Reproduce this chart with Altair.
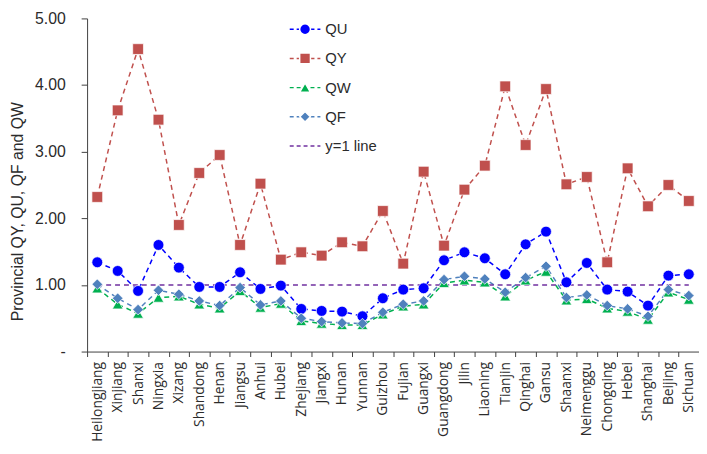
import altair as alt
import pandas as pd

provinces = ["Heilongjiang", "Xinjiang", "Shanxi", "Ningxia", "Xizang", "Shandong", "Henan",
             "Jiangsu", "Anhui", "Hubei", "Zhejiang", "Jiangxi", "Hunan", "Yunnan", "Guizhou",
             "Fujian", "Guangxi", "Guangdong", "Jilin", "Liaoning", "Tianjin", "Qinghai", "Gansu",
             "Shaanxi", "Neimenggu", "Chongqing", "Hebei", "Shanghai", "Beijing", "Sichuan"]

qu = [1.34, 1.21, 0.91, 1.60, 1.26, 0.97, 0.97, 1.19, 0.94, 0.99, 0.64, 0.61, 0.60, 0.53, 0.80,
      0.93, 0.95, 1.37, 1.49, 1.40, 1.16, 1.61, 1.80, 1.04, 1.33, 0.93, 0.90, 0.69, 1.14, 1.16]
qy = [2.32, 3.62, 4.54, 3.48, 1.90, 2.68, 2.95, 1.60, 2.52, 1.38, 1.49, 1.44, 1.64, 1.58, 2.11,
      1.32, 2.70, 1.59, 2.43, 2.79, 3.98, 3.10, 3.94, 2.51, 2.62, 1.34, 2.75, 2.18, 2.50, 2.26]
qw = [0.95, 0.71, 0.57, 0.81, 0.83, 0.71, 0.65, 0.91, 0.66, 0.72, 0.46, 0.42, 0.40, 0.40, 0.56,
      0.68, 0.71, 1.03, 1.07, 1.04, 0.83, 1.07, 1.20, 0.77, 0.79, 0.65, 0.60, 0.48, 0.89, 0.78]
qf = [1.01, 0.80, 0.63, 0.92, 0.86, 0.76, 0.69, 0.96, 0.70, 0.76, 0.50, 0.45, 0.43, 0.42, 0.59,
      0.71, 0.76, 1.08, 1.13, 1.09, 0.89, 1.11, 1.28, 0.81, 0.85, 0.69, 0.64, 0.53, 0.93, 0.84]
ref_line = [1.0] * len(provinces)

series_names = ["QU", "QY", "QW", "QF", "y=1 line"]
series_colors = ["#0000FF", "#C0504D", "#00B050", "#4F81BD", "#7030A0"]
marker_shapes = ["circle", "square", "triangle-up", "diamond"]
marker_sizes = [120, 115, 120, 160]

rows = []
for name, vals in zip(series_names, [qu, qy, qw, qf, ref_line]):
    for p, v in zip(provinces, vals):
        rows.append({"province": p, "series": name, "value": v})
df = pd.DataFrame(rows)

font = "Liberation Sans"
txt = "#2b2b2b"
axis_col = "#404040"

x_enc = alt.X("province:N", sort=provinces,
              scale=alt.Scale(type="band", paddingInner=0, paddingOuter=0),
              bandPosition=0.5,
              axis=alt.Axis(title=None, labelAngle=270, labelFont="Open Sans", labelFontSize=14,
                            labelColor=txt, labelPadding=5, tickSize=5, tickBand="extent",
                            domainColor=axis_col, tickColor=axis_col, labelOverlap=False))
y_enc = alt.Y("value:Q", scale=alt.Scale(domain=[0, 5]),
              axis=alt.Axis(values=[0, 1, 2, 3, 4, 5],
                            labelExpr="datum.value == 0 ? '-\u00a0\u00a0' : format(datum.value, '.2f')",
                            labelFont=font, labelFontSize=16, labelColor=txt, labelPadding=16,
                            tickSize=6, domainColor=axis_col, tickColor=axis_col,
                            title="Provincial QY, QU, QF and QW", titleFont=font, titleFontSize=16,
                            titleFontWeight="normal", titleColor=txt, titleAngle=270,
                            titleX=-70, titleY=195, titleAlign="center", titleBaseline="middle"))

lines = alt.Chart(df).mark_line(strokeDash=[5, 4], strokeWidth=1.5).encode(
    x=x_enc, y=y_enc,
    stroke=alt.Stroke("series:N", scale=alt.Scale(domain=series_names, range=series_colors),
                      legend=alt.Legend(title=None, orient="none", legendX=204, legendY=3,
                                        symbolType="stroke", symbolSize=961, symbolStrokeWidth=1.5,
                                        symbolDash=[4, 3], labelFont=font, labelFontSize=15,
                                        labelColor=txt, labelOffset=4, clipHeight=16,
                                        rowPadding=13.5, padding=0)),
)

pt_legend = alt.Legend(title=None, orient="none", legendX=213, legendY=3, symbolSize=140,
                       labelExpr="''", labelFontSize=15, clipHeight=16,
                       rowPadding=13.5, padding=0)

points = alt.Chart(df).transform_filter(alt.datum.series != "y=1 line").mark_point(
    filled=True, opacity=1, stroke="white", strokeWidth=1, strokeOpacity=0.7
).encode(
    x=x_enc, y=y_enc,
    color=alt.Color("series:N", scale=alt.Scale(domain=series_names[:4], range=series_colors[:4]),
                    legend=pt_legend),
    shape=alt.Shape("series:N", scale=alt.Scale(domain=series_names[:4], range=marker_shapes),
                    legend=pt_legend),
    size=alt.Size("series:N", scale=alt.Scale(domain=series_names[:4], range=marker_sizes),
                  legend=None),
)

chart = alt.layer(lines, points).properties(
    width=619, height=337,
    autosize=alt.AutoSizeParams(type="none"),
    padding={"left": 80, "top": 8, "right": 0, "bottom": 94},
).configure_axis(grid=False).configure_view(stroke=None)

chart.save("out.html", embed_options={"renderer": "svg", "actions": False})
